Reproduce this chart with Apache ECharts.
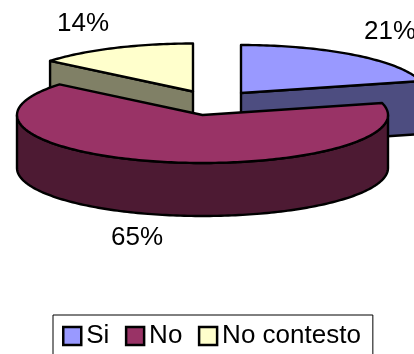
<!DOCTYPE html>
<html>
<head>
<meta charset="utf-8">
<style>html,body{margin:0;padding:0;background:#fff;overflow:hidden}#c{width:414px;height:354px}</style>
<script src="https://cdn.jsdelivr.net/npm/echarts@6/dist/echarts.min.js"></script>
</head>
<body>
<div id="c"></div>
<script>
// Survey answers, in percent
const categories = ['Si', 'No', 'No contesto'];
const shares = [21, 65, 14];

// Face colours per answer
const topColors = ['#9999ff', '#993366', '#ffffcc'];
const wallColors = ['#4d4d80', '#4d1a33', '#808066'];

// Exploded-pie geometry: each slice's apex and label anchor
const RX = 185.5, RY = 48, DEPTH = 53;
const apexes = [[241, 93], [202.5, 115], [193, 91.5]];
const labelSpots = [[390, 31.5], [137, 238], [83, 24]];
const drawOrder = [2, 0, 1];

const total = shares.reduce((a, b) => a + b, 0);
const startFrac = i => shares.slice(0, i).reduce((a, b) => a + b, 0) / total;

// Point on the slice ellipse, angle measured clockwise from twelve o'clock
function rim(c, t, dy) {
  return [c[0] + RX * Math.sin(t), c[1] - RY * Math.cos(t) + (dy || 0)];
}
function arc(c, a, b, dy) {
  const n = Math.max(2, Math.ceil(Math.abs(b - a) / 0.02));
  const pts = [];
  for (let k = 0; k <= n; k++) pts.push(rim(c, a + (b - a) * k / n, dy));
  return pts;
}
const stroke = (fill) => ({ fill, stroke: '#000', lineWidth: 2.4, lineJoin: 'round' });

function renderSlice(idx) {
  return function (params, api) {
    const value = api.value(0);
    const c = apexes[idx];
    const a = startFrac(idx) * 2 * Math.PI;
    const b = a + value / total * 2 * Math.PI;
    const children = [];
    const wall = wallColors[idx];

    // Radial faces turned towards the viewer
    const radial = (t) => {
      const p = rim(c, t);
      children.push({ type: 'polygon', shape: { points: [c, p, [p[0], p[1] + DEPTH], [c[0], c[1] + DEPTH]] }, style: stroke(wall) });
    };
    if (b - a < Math.PI) {
      if (Math.sin(b) > 0 && Math.cos(b) > 0) radial(b);
      if (Math.sin(a) < 0 && Math.cos(a) > 0) radial(a);
    }

    // Outer wall along the front half of the rim
    const front0 = Math.max(a, Math.PI / 2), front1 = Math.min(b, Math.PI * 1.5);
    if (front1 > front0) {
      const upper = arc(c, front0, front1);
      const lower = arc(c, front1, front0, DEPTH);
      children.push({ type: 'polygon', shape: { points: upper.concat(lower) }, style: stroke(wall) });
    }

    // Top face
    children.push({ type: 'polygon', shape: { points: [c].concat(arc(c, a, b)) }, style: stroke(topColors[idx]) });

    // Percentage label
    children.push({
      type: 'text',
      style: {
        x: labelSpots[idx][0], y: labelSpots[idx][1],
        text: value + '%', fill: '#000',
        font: '26px "Liberation Sans", Arial, sans-serif',
        align: 'center', verticalAlign: 'middle'
      }
    });
    return { type: 'group', children };
  };
}

const chart = echarts.init(document.getElementById('c'), null, { renderer: 'canvas' });
chart.setOption({
  animation: false,
  legend: {
    left: 53, top: 315,
    padding: [8, 12, 12, 9],
    itemWidth: 18, itemHeight: 18, itemGap: 15.5,
    borderColor: '#000', borderWidth: 1,
    icon: 'rect',
    textStyle: { fontFamily: '"Liberation Sans", Arial, sans-serif', fontSize: 26, color: '#000' },
    data: categories.map((name, i) => ({
      name,
      itemStyle: { color: topColors[i], borderColor: '#000', borderWidth: 2.5 }
    }))
  },
  series: drawOrder.map(i => ({
    type: 'custom',
    name: categories[i],
    coordinateSystem: 'none',
    silent: true,
    itemStyle: { color: topColors[i] },
    renderItem: renderSlice(i),
    data: [[shares[i]]]
  }))
});
</script>
</body>
</html>
